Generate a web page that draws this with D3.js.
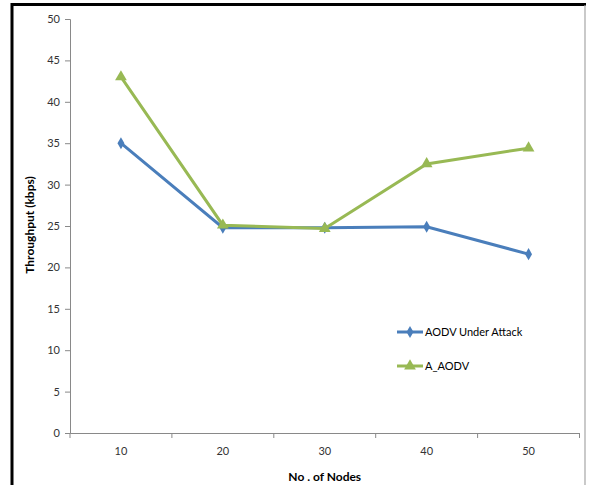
<!DOCTYPE html>
<html>
<head>
<meta charset="utf-8">
<script src="https://cdn.jsdelivr.net/npm/d3@7"></script>
<style>
  body { margin: 0; background: #fff; }
  text { font-family: Lato, "Open Sans", sans-serif; fill: #333; }
</style>
</head>
<body>
<div id="chart"></div>
<script>
// data
const nodes = ["10", "20", "30", "40", "50"];
const underAttack = [35, 24.8, 24.8, 24.9, 21.6];
const aAodv = [43, 25.1, 24.7, 32.5, 34.4];
const yTicks = [0, 5, 10, 15, 20, 25, 30, 35, 40, 45, 50];

const W = 590, H = 485;
const plotLeft = 70, plotRight = 579.5, plotTop = 19, plotBottom = 433;

const svg = d3.select("#chart").append("svg")
    .attr("width", W).attr("height", H);

// frame
svg.append("line").attr("x1", 12).attr("x2", 12).attr("y1", 3).attr("y2", H)
   .attr("stroke", "#000").attr("stroke-width", 3);
svg.append("line").attr("x1", 11).attr("x2", 586).attr("y1", 4.5).attr("y2", 4.5)
   .attr("stroke", "#000").attr("stroke-width", 3);
svg.append("line").attr("x1", 585).attr("x2", 585).attr("y1", 5).attr("y2", H)
   .attr("stroke", "#a6a6a6").attr("stroke-width", 1.2);

const x = d3.scaleBand().domain(nodes).range([plotLeft, plotRight]);
const y = d3.scaleLinear().domain([0, 50]).range([plotBottom, plotTop]);

const yAxis = svg.append("g")
    .attr("transform", `translate(${plotLeft},0)`)
    .call(d3.axisLeft(y).tickValues(yTicks).tickSize(5).tickPadding(5));
yAxis.selectAll("text").style("font-size", "11px");

const xAxis = svg.append("g")
    .attr("transform", `translate(0,${plotBottom})`)
    .call(d3.axisBottom(x).tickSize(0).tickPadding(14));
xAxis.selectAll("text").style("font-size", "11px");
// tick marks on band boundaries
xAxis.selectAll(".bnd")
    .data(nodes.map(n => x(n)).concat([plotRight]))
    .enter().append("line")
    .attr("x1", d => d).attr("x2", d => d)
    .attr("y1", 0).attr("y2", 5)
    .attr("stroke", "#898989");

svg.selectAll(".domain, .tick line").attr("stroke", "#898989");

// axis titles
svg.append("text")
   .attr("transform", `translate(34,225) rotate(-90)`)
   .attr("text-anchor", "middle")
   .style("font-size", "12px").style("font-weight", "bold").style("fill", "#000")
   .text("Throughput (kbps)");
svg.append("text")
   .attr("x", (plotLeft + plotRight) / 2).attr("y", 481)
   .attr("text-anchor", "middle")
   .style("font-size", "12px").style("font-weight", "bold").style("fill", "#000")
   .text("No . of Nodes");

const series = [
  {name: "AODV Under Attack", values: underAttack, color: "#4a7ebb", shape: d3.symbolDiamond, size: 42},
  {name: "A_AODV", values: aAodv, color: "#98b954", shape: d3.symbolTriangle, size: 60}
];

const line = d3.line()
    .x((d, i) => x(nodes[i]) + x.bandwidth() / 2)
    .y(d => y(d));

series.forEach(s => {
  svg.append("path")
     .datum(s.values)
     .attr("d", line)
     .attr("fill", "none")
     .attr("stroke", s.color)
     .attr("stroke-width", 3);
  svg.selectAll(null)
     .data(s.values)
     .enter().append("path")
     .attr("d", d3.symbol().type(s.shape).size(s.size))
     .attr("transform", (d, i) => `translate(${x(nodes[i]) + x.bandwidth() / 2},${y(d)})`)
     .attr("fill", s.color);
});

// legend
const legend = svg.append("g");
series.forEach((s, i) => {
  const ly = 332 + i * 34;
  legend.append("line").attr("x1", 397).attr("x2", 423).attr("y1", ly).attr("y2", ly)
     .attr("stroke", s.color).attr("stroke-width", 3);
  legend.append("path")
     .attr("d", d3.symbol().type(s.shape).size(s.size))
     .attr("transform", `translate(410,${ly})`)
     .attr("fill", s.color);
  legend.append("text")
     .attr("x", 425).attr("y", ly + 4)
     .style("font-size", "11px").style("fill", "#000")
     .text(s.name);
});
</script>
</body>
</html>
